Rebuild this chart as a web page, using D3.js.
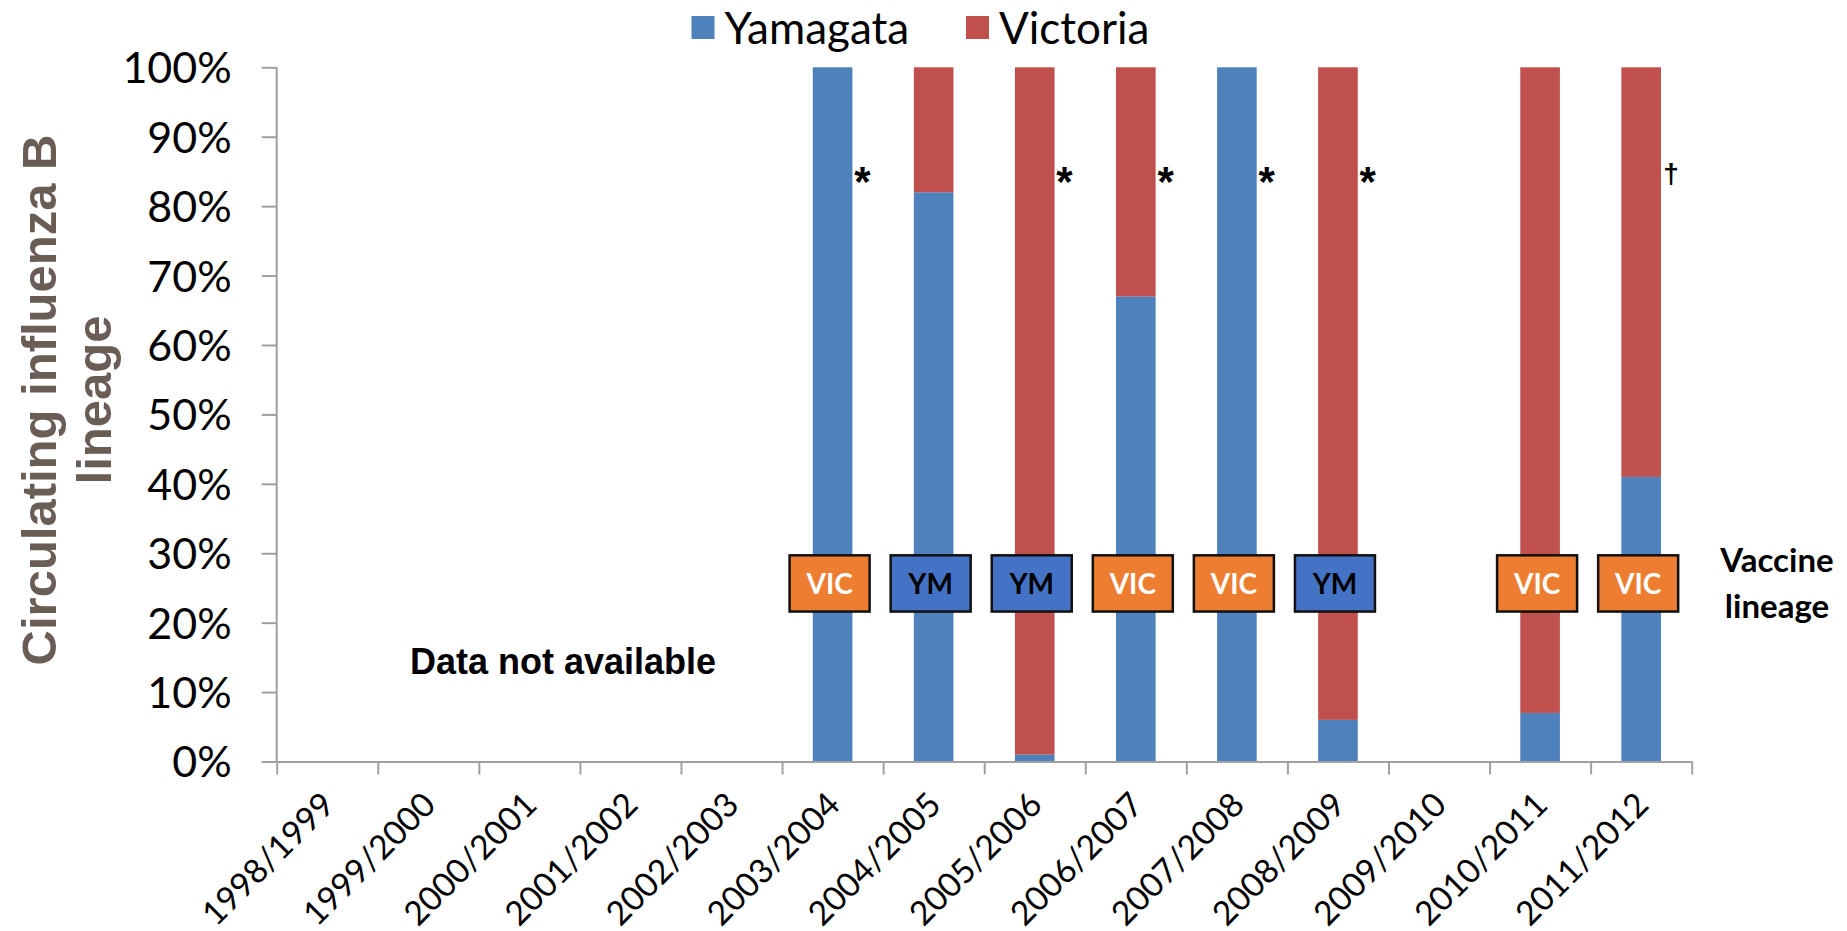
<!DOCTYPE html>
<html>
<head>
<meta charset="utf-8">
<script src="https://cdn.jsdelivr.net/npm/d3@7"></script>
<style>
  html, body { margin: 0; padding: 0; background: #fff; }
  svg { display: block; }
</style>
</head>
<body>
<svg id="chart" width="1847" height="931"></svg>
<script>
// Influenza B lineage by season
const seasons = ["1998/1999", "1999/2000", "2000/2001", "2001/2002", "2002/2003",
  "2003/2004", "2004/2005", "2005/2006", "2006/2007", "2007/2008",
  "2008/2009", "2009/2010", "2010/2011", "2011/2012"];
const yamagata = [null, null, null, null, null, 100, 82, 1, 67, 100, 6, null, 7, 41];
const victoria = [null, null, null, null, null, 0, 18, 99, 33, 0, 94, null, 93, 59];
const vaccineLineage = [null, null, null, null, null, "VIC", "YM", "YM", "VIC", "VIC", "YM", null, "VIC", "VIC"];
const notes = ["", "", "", "", "", "*", "", "*", "*", "*", "*", "", "", "\u2020"];
const yTicks = [0, 10, 20, 30, 40, 50, 60, 70, 80, 90, 100];
const seriesNames = ["Yamagata", "Victoria"];

const colors = { Yamagata: "#4F81BD", Victoria: "#C0504D" };
const boxColors = { VIC: "#ED7D31", YM: "#4472C4" };
const boxText = { VIC: "#FFFFFF", YM: "#000000" };

const uiFont = "Lato, 'Open Sans', sans-serif";
const arialFont = "'Liberation Sans', Arial, sans-serif";

const plot = { left: 276.7, right: 1691.7, top: 67.3, bottom: 761.5 };

const svg = d3.select("#chart");

const x = d3.scaleBand()
  .domain(seasons)
  .range([plot.left, plot.right])
  .paddingInner(0.608)
  .paddingOuter(0.304);

const y = d3.scaleLinear().domain([0, 100]).range([plot.bottom, plot.top]);

// table for the stack layout
const table = seasons.map((s, i) => ({
  season: s,
  Yamagata: yamagata[i],
  Victoria: victoria[i],
  has: yamagata[i] !== null
}));

const stacked = d3.stack().keys(seriesNames).value((d, k) => d[k] || 0)(table);

// bars
svg.append("g").selectAll("g")
  .data(stacked)
  .join("g")
  .attr("fill", d => colors[d.key])
  .selectAll("rect")
  .data(d => d.filter(p => p.data.has && p[1] > p[0]))
  .join("rect")
  .attr("x", d => x(d.data.season))
  .attr("width", x.bandwidth())
  .attr("y", d => y(d[1]))
  .attr("height", d => y(d[0]) - y(d[1]));

// y axis
const yAxis = svg.append("g")
  .attr("transform", `translate(${plot.left},0)`)
  .call(d3.axisLeft(y).tickValues(yTicks).tickSize(15).tickPadding(30).tickFormat(d => d + "%"));
yAxis.selectAll("path, line").attr("stroke", "#A0A0A0").attr("stroke-width", 2);
yAxis.select(".domain").attr("d", `M0,${plot.top}V${plot.bottom}`);
yAxis.selectAll("text")
  .attr("font-family", uiFont)
  .attr("font-size", 43)
  .attr("fill", "#000")
  .attr("dy", "0.36em");

// x axis: boundary ticks between seasons
const xEdges = d3.scaleLinear().domain([0, seasons.length]).range([plot.left, plot.right]);
const xTickAxis = svg.append("g")
  .attr("transform", `translate(0,${plot.bottom})`)
  .call(d3.axisBottom(xEdges).tickValues(d3.range(seasons.length + 1)).tickSize(13).tickSizeOuter(0).tickFormat(""));
xTickAxis.selectAll("path, line").attr("stroke", "#A0A0A0").attr("stroke-width", 2);

// x axis: season labels, rotated
const xLabelAxis = svg.append("g")
  .attr("transform", `translate(0,${plot.bottom})`)
  .call(d3.axisBottom(x).tickSize(0).tickSizeOuter(0));
xLabelAxis.select(".domain").remove();
xLabelAxis.selectAll("text")
  .attr("font-family", uiFont)
  .attr("font-size", 33.5)
  .attr("fill", "#000")
  .attr("text-anchor", "end")
  .attr("x", 0)
  .attr("y", 0)
  .attr("dy", "0.35em")
  .attr("transform", "translate(1,37) rotate(-45)");

// notes next to bars
svg.append("g").selectAll("text")
  .data(seasons.map((s, i) => ({ s, n: notes[i] })).filter(d => d.n))
  .join("text")
  .attr("x", d => x(d.s) + x.bandwidth() + 10)
  .attr("y", y(84.5))
  .attr("text-anchor", "middle")
  .attr("dy", d => d.n === "*" ? "0.5em" : "0.3em")
  .attr("font-family", arialFont)
  .attr("font-weight", "bold")
  .attr("font-size", d => d.n === "*" ? 42 : 28)
  .attr("fill", "#000")
  .text(d => d.n);

// vaccine lineage boxes
const boxW = 80, boxTop = y(29.7), boxBottom = y(21.6);
const boxes = svg.append("g").selectAll("g")
  .data(seasons.map((s, i) => ({ s, v: vaccineLineage[i] })).filter(d => d.v))
  .join("g")
  .attr("transform", d => `translate(${x(d.s) + x.bandwidth() / 2 - 3},0)`);
boxes.append("rect")
  .attr("x", -boxW / 2)
  .attr("y", boxTop)
  .attr("width", boxW)
  .attr("height", boxBottom - boxTop)
  .attr("fill", d => boxColors[d.v])
  .attr("stroke", "#111")
  .attr("stroke-width", 2.5);
boxes.append("text")
  .attr("x", 0)
  .attr("y", (boxTop + boxBottom) / 2)
  .attr("dy", "0.36em")
  .attr("text-anchor", "middle")
  .attr("font-family", uiFont)
  .attr("font-weight", "bold")
  .attr("font-size", 28)
  .attr("fill", d => boxText[d.v])
  .text(d => d.v);

// side label for the boxes
const side = svg.append("text")
  .attr("font-family", uiFont)
  .attr("font-weight", "bold")
  .attr("font-size", 33)
  .attr("fill", "#000")
  .attr("text-anchor", "middle");
side.append("tspan").attr("x", 1777).attr("y", 572).text("Vaccine");
side.append("tspan").attr("x", 1777).attr("y", 618).text("lineage");

// no-data note
svg.append("text")
  .attr("x", 563)
  .attr("y", 674)
  .attr("text-anchor", "middle")
  .attr("font-family", arialFont)
  .attr("font-weight", "bold")
  .attr("font-size", 36)
  .attr("fill", "#000")
  .text("Data not available");

// y axis title
const yTitle = svg.append("text")
  .attr("transform", "translate(0,400) rotate(-90)")
  .attr("text-anchor", "middle")
  .attr("font-family", arialFont)
  .attr("font-weight", "bold")
  .attr("font-size", 49)
  .attr("fill", "#695D55");
yTitle.append("tspan").attr("x", 0).attr("y", 56).text("Circulating influenza B");
yTitle.append("tspan").attr("x", 0).attr("y", 111).text("lineage");

// legend
const legendItems = [
  { name: seriesNames[0], sx: 691.5, tx: 724.5 },
  { name: seriesNames[1], sx: 966, tx: 999 }
];
const legend = svg.append("g").selectAll("g").data(legendItems).join("g");
legend.append("rect")
  .attr("x", d => d.sx).attr("y", 16)
  .attr("width", 23).attr("height", 23)
  .attr("fill", d => colors[d.name]);
legend.append("text")
  .attr("x", d => d.tx).attr("y", 44)
  .attr("font-family", uiFont)
  .attr("font-size", 44)
  .attr("fill", "#000")
  .text(d => d.name);
</script>
</body>
</html>
